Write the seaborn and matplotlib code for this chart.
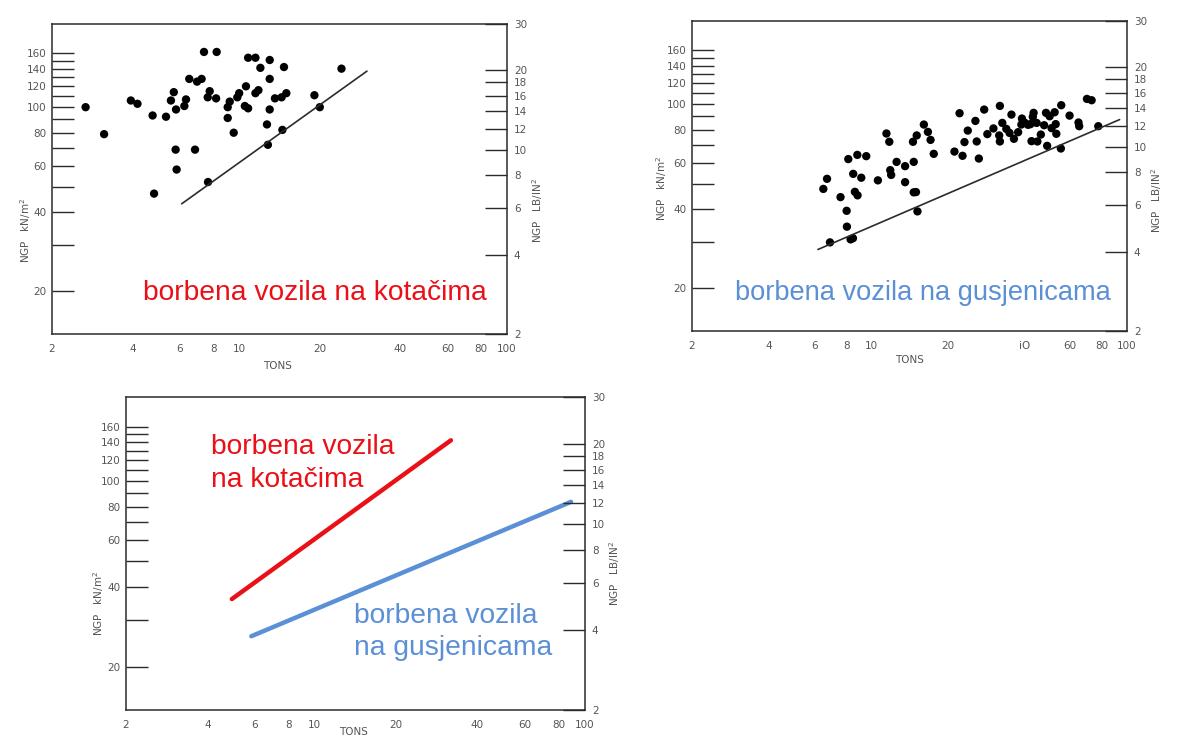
import matplotlib
matplotlib.use("Agg")
import matplotlib.pyplot as plt
import matplotlib.ticker as mticker
import seaborn as sns

# NGP (kN/m^2) vs vehicle mass (tons)
wheeled_tons = [2.67, 3.13, 3.94, 4.17, 4.75, 4.81, 5.33, 5.56, 5.70, 5.81,
                5.79, 5.84, 6.24, 6.33, 6.51, 6.84, 6.96, 7.24, 7.39, 7.63,
                7.76, 7.65, 8.24, 8.20, 9.06, 9.06, 9.22, 9.54, 9.84, 10.0,
                10.5, 10.6, 10.8, 10.8, 11.5, 11.5, 11.8, 12.0, 12.7, 12.8,
                13.0, 13.0, 13.0, 13.6, 14.5, 14.4, 14.7, 15.0, 19.1, 20.0,
                24.1]
wheeled_ngp = [100, 79, 106, 103, 93, 47, 92, 106, 114, 98,
               69, 58, 101, 107, 128, 69, 125, 128, 162, 109,
               115, 52, 162, 108, 100, 91, 105, 80, 109, 113,
               101, 120, 99, 154, 113, 154, 116, 141, 86, 72,
               151, 128, 98, 108, 82, 109, 142, 113, 111, 100,
               140]
wheeled_fit_tons = [6.1, 30.0]
wheeled_fit_ngp = [43, 137]

tracked_tons = [6.52, 6.74, 7.61, 8.04, 8.06, 6.92, 8.16, 8.53, 8.66, 8.87,
                8.85, 9.17, 9.59, 8.33, 8.51, 10.65, 11.5, 11.8, 11.9, 12.0,
                12.6, 13.6, 13.6, 14.7, 14.6, 15.1, 16.1, 16.7, 17.1, 17.6,
                14.7, 15.0, 15.2, 21.2, 22.2, 22.8, 23.2, 23.9, 25.6, 25.9,
                26.4, 27.7, 28.5, 30.1, 31.7, 31.9, 31.9, 32.6, 33.8, 34.8,
                35.4, 36.2, 37.6, 38.7, 38.9, 39.8, 41.1, 42.0, 42.4, 42.9,
                43.2, 44.4, 44.7, 46.1, 47.5, 48.3, 48.8, 49.9, 50.8, 52.2,
                52.7, 53.0, 55.2, 55.4, 59.7, 64.7, 65.1, 69.8, 72.8, 77.3]
tracked_ngp = [47.7, 52.1, 44.4, 39.4, 34.3, 29.9, 61.9, 54.4, 46.5, 45.1,
               64.2, 52.6, 63.5, 30.7, 31.0, 51.4, 77.4, 72.0, 56.2, 53.9,
               60.4, 58.2, 50.6, 60.4, 72.0, 76.1, 83.7, 78.5, 73.2, 64.8,
               46.3, 46.4, 39.2, 66.1, 92.4, 63.7, 71.8, 79.4, 86.4, 72.2,
               62.2, 95.4, 77.0, 80.9, 76.1, 98.5, 72.2, 84.9, 80.6, 77.8,
               91.3, 73.9, 78.3, 83.7, 88.2, 85.2, 83.5, 84.0, 72.4, 89.5,
               92.7, 84.9, 72.2, 76.7, 83.2, 92.7, 69.5, 90.0, 81.1, 93.2,
               84.0, 77.2, 67.9, 99.1, 90.5, 85.2, 82.5, 104.7, 103.5, 82.5]
tracked_fit_tons = [6.21, 93.6]
tracked_fit_ngp = [28.1, 87.4]

# summary lines of the bottom panel
red_tons = [4.93, 31.9]
red_ngp = [36.0, 142.2]
blue_tons = [5.82, 88.8]
blue_ngp = [26.1, 83.5]

x_major = [2, 4, 6, 8, 10, 20, 30, 40, 50, 60, 70, 80, 90, 100]
x_labels = ["2", "4", "6", "8", "10", "20", "", "40", "", "60", "", "80", "", "100"]
x_minor = [12, 14, 16, 18]
kn_ticks = [20, 30, 40, 50, 60, 70, 80, 90, 100, 110, 120, 130, 140, 150, 160]
kn_labels = ["20", "", "40", "", "60", "", "80", "", "100", "", "120", "", "140", "", "160"]
psi_ticks = [2, 4, 6, 8, 10, 12, 14, 16, 18, 20, 30]
psi_labels = ["2", "4", "6", "8", "10", "12", "14", "16", "18", "20", "30"]

PSI_TO_KN = 6.895
RED = "#ea1018"
BLUE = "#5b8fd6"
INK = "#2b2b2b"
LABEL = "#555555"
CAPTION_FONT = ["Liberation Sans", "DejaVu Sans"]

sns.set_style("white")
plt.rcParams["font.family"] = ["DejaVu Sans"]


def setup_axes(fig, rect, tonlabels):
    """Log-log frame with inward ticks and a psi twin axis on the right."""
    ax = fig.add_axes(rect)
    ax.set_xscale("log")
    ax.set_yscale("log")
    ax.set_xlim(2, 100)
    ax.set_ylim(2 * PSI_TO_KN, 30 * PSI_TO_KN)
    for sp in ax.spines.values():
        sp.set_color(INK)
        sp.set_linewidth(1.1)

    ax.xaxis.set_major_locator(mticker.FixedLocator(x_major))
    ax.xaxis.set_major_formatter(mticker.FixedFormatter(tonlabels))
    ax.xaxis.set_minor_locator(mticker.FixedLocator(x_minor))
    ax.xaxis.set_minor_formatter(mticker.NullFormatter())
    ax.yaxis.set_major_locator(mticker.FixedLocator(kn_ticks))
    ax.yaxis.set_major_formatter(mticker.FixedFormatter(kn_labels))
    ax.yaxis.set_minor_locator(mticker.NullLocator())

    ax.tick_params(axis="x", which="major", direction="in", length=14.5,
                   width=1.0, color=INK, labelsize=7.5, labelcolor=LABEL, pad=7)
    ax.tick_params(axis="x", which="minor", direction="in", length=10.5,
                   width=1.0, color=INK)
    ax.tick_params(axis="y", which="major", direction="in", length=16,
                   width=1.0, color=INK, labelsize=7.5, labelcolor=LABEL, pad=4)
    # the decade mark at 10 t is drawn a little longer
    for tick in ax.xaxis.get_major_ticks():
        if tick.get_loc() == 10:
            tick.tick1line.set_markersize(18)

    ax2 = ax.twinx()
    ax2.set_yscale("log")
    ax2.set_ylim(2, 30)
    ax2.yaxis.set_major_locator(mticker.FixedLocator(psi_ticks))
    ax2.yaxis.set_major_formatter(mticker.FixedFormatter(psi_labels))
    ax2.yaxis.set_minor_locator(mticker.NullLocator())
    ax2.tick_params(axis="y", which="major", direction="in", length=16,
                    width=1.0, color=INK, labelsize=7.5, labelcolor=LABEL, pad=5)
    for sp in ax2.spines.values():
        sp.set_visible(False)
    return ax, ax2


def axis_texts(ax, left_pos, right_pos, tons_pos):
    ax.text(*left_pos, "NGP   kN/m$^2$", rotation=90, transform=ax.transAxes,
            ha="center", va="center", fontsize=7.5, color=LABEL)
    ax.text(*right_pos, "NGP   LB/IN$^2$", rotation=90, transform=ax.transAxes,
            ha="center", va="center", fontsize=7.5, color=LABEL)
    ax.text(*tons_pos, "TONS", transform=ax.transAxes, ha="center",
            va="center", fontsize=7.5, color=LABEL)


fig = plt.figure(figsize=(11.82, 7.49), dpi=100)

# wheeled vehicles
ax1, _ = setup_axes(fig, [0.0440, 0.5541, 0.3849, 0.4139], x_labels)
sns.scatterplot(x=wheeled_tons, y=wheeled_ngp, ax=ax1, color="black",
                s=36, edgecolor="none")
sns.lineplot(x=wheeled_fit_tons, y=wheeled_fit_ngp, ax=ax1, color=INK,
             linewidth=1.2)
ax1.text(0.20, 0.132, "borbena vozila na kotačima", transform=ax1.transAxes,
         ha="left", va="center", fontsize=20.3, color=RED, family=CAPTION_FONT)
axis_texts(ax1, (-0.057, 0.335), (1.068, 0.40), (0.495, -0.103))

# tracked vehicles
tracked_labels = ["iO" if t == "40" else t for t in x_labels]
ax2, _ = setup_axes(fig, [0.5854, 0.5581, 0.3680, 0.4139], tracked_labels)
sns.scatterplot(x=tracked_tons, y=tracked_ngp, ax=ax2, color="black",
                s=36, edgecolor="none")
sns.lineplot(x=tracked_fit_tons, y=tracked_fit_ngp, ax=ax2, color=INK,
             linewidth=1.2)
ax2.text(0.099, 0.123, "borbena vozila na gusjenicama", transform=ax2.transAxes,
         ha="left", va="center", fontsize=19.6, color=BLUE, family=CAPTION_FONT)
axis_texts(ax2, (-0.069, 0.461), (1.069, 0.42), (0.501, -0.094))

# comparison of both trends
ax3, _ = setup_axes(fig, [0.1066, 0.0521, 0.3883, 0.4179], x_labels)
sns.lineplot(x=red_tons, y=red_ngp, ax=ax3, color=RED, linewidth=3.2)
sns.lineplot(x=blue_tons, y=blue_ngp, ax=ax3, color=BLUE, linewidth=3.2)
ax3.text(0.185, 0.788, "borbena vozila\nna kotačima", transform=ax3.transAxes,
         ha="left", va="center", fontsize=20.3, color=RED, linespacing=1.32,
         family=CAPTION_FONT)
ax3.text(0.497, 0.249, "borbena vozila\nna gusjenicama", transform=ax3.transAxes,
         ha="left", va="center", fontsize=20.3, color=BLUE, linespacing=1.32,
         family=CAPTION_FONT)
axis_texts(ax3, (-0.059, 0.342), (1.065, 0.437), (0.495, -0.07))

fig.savefig("out.png", dpi=100)
